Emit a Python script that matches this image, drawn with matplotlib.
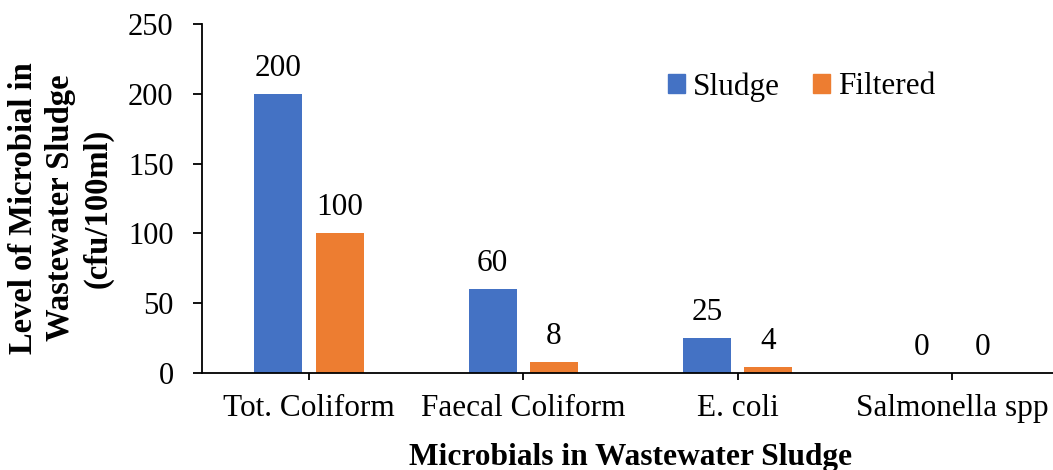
import numpy as np
import matplotlib
matplotlib.use("Agg")
from matplotlib import pyplot as plt
from matplotlib.patches import Patch

categories = ["Tot. Coliform", "Faecal Coliform", "E. coli", "Salmonella spp"]
sludge = [200, 60, 25, 0]
filtered = [100, 8, 4, 0]

plt.rcParams["font.family"] = ["Liberation Serif", "DejaVu Serif"]

fig = plt.figure(figsize=(10.53, 4.70), dpi=100)
ax = fig.add_axes([202 / 1053, 97 / 470, 857 / 1053, 349 / 470])

x = np.arange(len(categories))
w = 0.224
blue = "#4472C4"
orange = "#ED7D31"
b1 = ax.bar(x - 0.143, sludge, w, color=blue)
b2 = ax.bar(x + 0.143, filtered, w, color=orange)

# value labels above each bar
for bars, vals in ((b1, sludge), (b2, filtered)):
    for rect, v in zip(bars, vals):
        ax.annotate(str(v), (rect.get_x() + rect.get_width() / 2, v),
                    xytext=(0, 13), textcoords="offset points",
                    ha="center", va="baseline", fontsize=22.5)

ax.set_xlim(-0.5, 3.5)
ax.set_ylim(0, 250)
ax.set_yticks(np.arange(0, 251, 50))
ax.set_xticks(x)
ax.set_xticklabels(categories)

for s in ("top", "right"):
    ax.spines[s].set_visible(False)
for s in ("left", "bottom"):
    ax.spines[s].set_linewidth(1.3)
    ax.spines[s].set_color("black")
ax.tick_params(axis="y", length=6.5, width=1.3, pad=14, labelsize=22)
ax.tick_params(axis="x", length=5, width=1.3, pad=10, labelsize=22.5)

# axis titles
fig.text(631 / 1053, 1 - 465 / 470, "Microbials in Wastewater Sludge", fontsize=22.6,
         fontweight="bold", ha="center", va="baseline")
fig.text(61 / 1053, 1 - 208 / 470, "Level of Microbial in\nWastewater Sludge\n(cfu/100ml)",
         fontsize=23.5, fontweight="bold", rotation=90, ha="center", va="center",
         linespacing=1.25)

handles = [Patch(color=blue, label="Sludge"), Patch(color=orange, label="Filtered")]
fig.legend(handles=handles, loc="upper left", bbox_to_anchor=(668 / 1053, 1 - 72 / 470),
           ncol=2, frameon=False, fontsize=22.5, handlelength=0.55, handleheight=0.55,
           handletextpad=0.25, columnspacing=1.05, borderpad=0, borderaxespad=0)

fig.savefig("out.png", dpi=100)
